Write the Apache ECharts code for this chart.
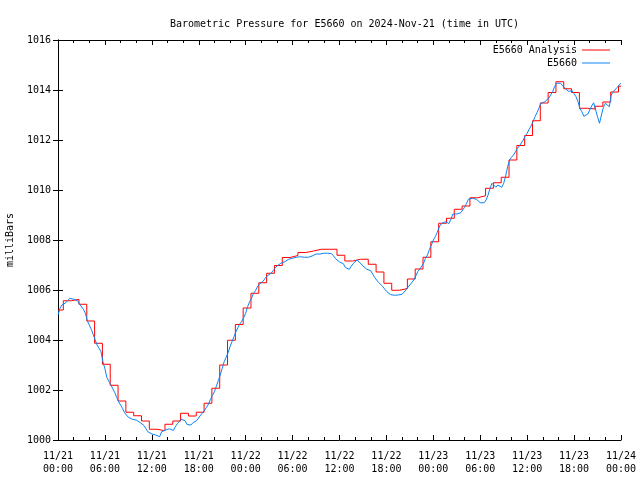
<!DOCTYPE html>
<html>
<head>
<meta charset="utf-8">
<script src="https://cdn.jsdelivr.net/npm/echarts@6/dist/echarts.min.js"></script>
<style>html,body{margin:0;padding:0;background:#fff;}#c{width:640px;height:480px;}</style>
</head>
<body>
<div id="c"></div>
<script>
const titleText = 'Barometric Pressure for E5660 on 2024-Nov-21 (time in UTC)';
const yAxisName = 'milliBars';
const seriesNames = ['E5660 Analysis', 'E5660'];
const xTickLabels = ['11/21\n00:00','11/21\n06:00','11/21\n12:00','11/21\n18:00','11/22\n00:00','11/22\n06:00','11/22\n12:00','11/22\n18:00','11/23\n00:00','11/23\n06:00','11/23\n12:00','11/23\n18:00','11/24\n00:00'];

// Hourly analysis values (each holds from its start time until the next one), hours since 11/21 00:00
const analysisStartHours = [0,0.68,1.68,2.68,3.68,4.68,5.68,6.68,7.68,8.68,9.68,10.68,11.68,12.68,13.68,14.68,15.68,16.68,17.68,18.68,19.68,20.68,21.68,22.68,23.68,24.68,25.68,26.68,27.68,28.68,29.68,30.68,31.68,32.68,33.68,34.68,35.68,36.68,37.68,38.68,39.68,40.68,41.68,42.68,43.68,44.68,45.68,46.68,47.68,48.68,49.68,50.68,51.68,52.68,53.68,54.68,55.68,56.68,57.68,58.68,59.68,60.68,61.68,62.68,63.68,64.68,65.68,66.68,67.68,68.68,69.68,70.68,71.68,72];
const analysisValues = [
1005.20,1005.57,1005.63,1005.43,1004.76,1003.87,1003.03,1002.19,1001.56,1001.11,
1000.97,1000.76,1000.43,1000.37,1000.63,1000.76,1001.07,1000.96,1001.11,1001.47,
1002.07,1003.00,1003.99,1004.62,1005.28,1005.87,1006.29,1006.67,1006.98,1007.30,
1007.38,1007.50,1007.56,1007.63,1007.63,1007.63,1007.39,1007.16,1007.23,1007.23,
1007.03,1006.72,1006.27,1005.99,1006.06,1006.44,1006.84,1007.31,1007.93,1008.67,
1008.87,1009.23,1009.36,1009.69,1009.77,1010.07,1010.29,1010.51,1011.20,1011.78,
1012.18,1012.77,1013.48,1013.90,1014.33,1014.05,1013.90,1013.27,1013.24,1013.35,
1013.52,1013.92,1014.15,1014.15];

// Station observations every 15 minutes from 11/21 00:00 to 11/24 00:00
const obsStepHours = 0.25;
const obsValues = [
1005.00,1005.27,1005.40,1005.47, 1005.49,1005.57,1005.67,1005.71, 1005.63,1005.60,1005.57,1005.44,
1005.36,1005.23,1005.07,1004.77, 1004.60,1004.43,1004.23,1004.00, 1003.80,1003.67,1003.53,1003.13,
1002.85,1002.50,1002.35,1002.22, 1002.05,1001.90,1001.71,1001.53, 1001.40,1001.27,1001.10,1001.00,
1000.91,1000.90,1000.83,1000.88, 1000.80,1000.75,1000.70,1000.65, 1000.58,1000.45,1000.33,1000.29,
1000.24,1000.20,1000.20,1000.16, 1000.13,1000.33,1000.37,1000.40, 1000.43,1000.45,1000.38,1000.38,
1000.53,1000.65,1000.73,1000.83, 1000.90,1000.77,1000.62,1000.67, 1000.60,1000.69,1000.66,1000.78,
1000.77,1001.00,1001.09,1001.20, 1001.31,1001.44,1001.63,1001.78, 1001.93,1002.15,1002.38,1002.60,
1002.87,1003.13,1003.31,1003.49, 1003.73,1003.93,1004.13,1004.33, 1004.49,1004.64,1004.75,1004.90,
1005.07,1005.33,1005.53,1005.67, 1005.87,1005.97,1006.13,1006.23, 1006.29,1006.36,1006.47,1006.56,
1006.60,1006.67,1006.77,1006.87, 1006.96,1007.04,1007.07,1007.12, 1007.13,1007.20,1007.23,1007.31,
1007.27,1007.33,1007.31,1007.36, 1007.33,1007.36,1007.31,1007.36, 1007.31,1007.36,1007.36,1007.40,
1007.44,1007.49,1007.44,1007.40, 1007.47,1007.49,1007.47,1007.47, 1007.45,1007.36,1007.25,1007.20,
1007.12,1007.07,1007.05,1006.90, 1006.85,1006.83,1006.95,1007.06, 1007.13,1007.20,1007.13,1007.05,
1006.96,1006.91,1006.83,1006.80, 1006.77,1006.70,1006.50,1006.40, 1006.30,1006.22,1006.15,1006.05,
1005.95,1005.87,1005.82,1005.80, 1005.79,1005.73,1005.80,1005.80, 1005.83,1005.89,1006.00,1006.11,
1006.20,1006.27,1006.40,1006.56, 1006.73,1006.83,1006.91,1007.07, 1007.27,1007.40,1007.63,1007.80,
1008.00,1008.13,1008.30,1008.52, 1008.64,1008.69,1008.73,1008.80, 1008.66,1008.83,1009.04,1009.07,
1009.04,1009.07,1009.09,1009.20, 1009.31,1009.47,1009.63,1009.67, 1009.67,1009.67,1009.63,1009.60,
1009.49,1009.47,1009.49,1009.60, 1009.80,1010.07,1010.27,1010.20, 1010.11,1010.20,1010.13,1010.11,
1010.27,1010.56,1010.93,1011.20, 1011.31,1011.40,1011.53,1011.67, 1011.76,1011.80,1012.00,1012.16,
1012.27,1012.43,1012.56,1012.73, 1012.93,1013.09,1013.27,1013.47, 1013.49,1013.53,1013.57,1013.67,
1013.80,1013.93,1014.13,1014.27, 1014.29,1014.27,1014.24,1014.10, 1014.02,1013.95,1013.95,1013.97,
1013.85,1013.73,1013.53,1013.27, 1013.13,1012.95,1012.87,1013.04, 1013.20,1013.36,1013.49,1013.55,
1012.93,1012.67,1013.00,1013.31, 1013.47,1013.53,1013.33,1013.80, 1013.93,1014.00,1014.10,1014.20,
1014.27];

const FONT = 'DejaVu Sans Mono';
const analysisData = analysisStartHours.map((h, i) => [h, analysisValues[i]]);
const obsData = obsValues.map((v, i) => [i * obsStepHours, v]);

const chart = echarts.init(document.getElementById('c'), null, {renderer: 'canvas'});
const baseX = {
  type: 'value', min: 0, max: 72, interval: 6,
  axisLine: {show: true, lineStyle: {color: '#000', width: 1}},
  axisTick: {show: true, inside: true, length: 5, lineStyle: {color: '#000'}},
  minorTick: {show: true, splitNumber: 3, length: 3, lineStyle: {color: '#000'}},
  splitLine: {show: false}
};
const baseY = {
  type: 'value', min: 1000, max: 1016, interval: 2,
  axisLine: {show: true, lineStyle: {color: '#000', width: 1}},
  axisTick: {show: true, inside: true, length: 5, lineStyle: {color: '#000'}},
  splitLine: {show: false}
};
chart.setOption({
  animation: false,
  backgroundColor: '#fff',
  title: {
    text: titleText, left: 339.5, top: 14, textAlign: 'center',
    textStyle: {fontFamily: FONT, fontSize: 10, fontWeight: 'normal', color: '#000'}
  },
  legend: [
    {data: [seriesNames[0]], right: 30, top: 45, orient: 'vertical', align: 'right',
     icon: 'rect', itemWidth: 28, itemHeight: 1, padding: 0,
     textStyle: {fontFamily: FONT, fontSize: 10, color: '#000'}},
    {data: [seriesNames[1]], right: 30, top: 58, orient: 'vertical', align: 'right',
     icon: 'rect', itemWidth: 28, itemHeight: 1, padding: 0,
     textStyle: {fontFamily: FONT, fontSize: 10, color: '#000'}}
  ],
  grid: {left: 58, top: 40, width: 563, height: 400, containLabel: false, outerBoundsMode: 'none'},
  xAxis: [
    Object.assign({}, baseX, {position: 'bottom',
      axisLabel: {show: true, margin: 10, lineHeight: 13, showMinLabel: true, showMaxLabel: true,
        fontFamily: FONT, fontSize: 10, color: '#000',
        formatter: v => xTickLabels[Math.round(v / 6)]}}),
    Object.assign({}, baseX, {position: 'top', axisLabel: {show: false}})
  ],
  yAxis: [
    Object.assign({}, baseY, {position: 'left', name: yAxisName, nameLocation: 'middle', nameGap: 43,
      nameRotate: 90, nameTextStyle: {fontFamily: FONT, fontSize: 10, color: '#000'},
      axisLabel: {show: true, margin: 7, fontFamily: FONT, fontSize: 10, color: '#000',
        formatter: v => String(v)}}),
    Object.assign({}, baseY, {position: 'right', axisLabel: {show: false}})
  ],
  series: [
    {name: seriesNames[0], type: 'line', step: 'end', data: analysisData, symbol: 'none',
     lineStyle: {color: '#ff0000', width: 1}, itemStyle: {color: '#ff0000'}, z: 2},
    {name: seriesNames[1], type: 'line', data: obsData, symbol: 'none',
     lineStyle: {color: '#0a84f5', width: 1}, itemStyle: {color: '#0a84f5'}, z: 3}
  ]
});
</script>
</body>
</html>
